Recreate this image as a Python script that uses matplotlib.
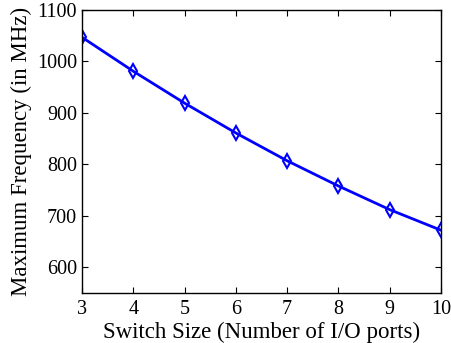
import numpy as np
import matplotlib.pyplot as plt

plt.rcParams['font.family'] = ['Liberation Serif', 'DejaVu Serif']

switch_size = [3, 4, 5, 6, 7, 8, 9, 10]
max_freq = [1047, 981, 919, 861, 807, 758, 712, 672]

fig = plt.figure(figsize=(4.51, 3.43), dpi=100)
ax = fig.add_axes([82/451, 1 - 293/343, (441-82)/451, (293-10)/343])

ax.plot(switch_size, max_freq, color='#0000ff', lw=2.0, marker='d',
        markersize=7, markerfacecolor='none', markeredgewidth=1.5)

ax.set_xlim(3, 10)
ax.set_ylim(550, 1100)
ax.set_xticks(switch_size)
ax.set_yticks([600, 700, 800, 900, 1000, 1100])
ax.tick_params(direction='in', top=True, right=True, labelsize=14.5, length=4)
ax.tick_params(axis='x', pad=5)
ax.tick_params(axis='y', pad=3.5)
for s in ax.spines.values():
    s.set_linewidth(1.0)

ax.set_xlabel('Switch Size (Number of I/O ports)', fontsize=16.5, va='baseline')
ax.xaxis.set_label_coords(0.5, -0.159)
ax.set_ylabel('Maximum Frequency (in MHz)', fontsize=16.5, va='center')
ax.yaxis.set_label_coords(-0.170, 0.5)

fig.savefig('out.png', dpi=100)
